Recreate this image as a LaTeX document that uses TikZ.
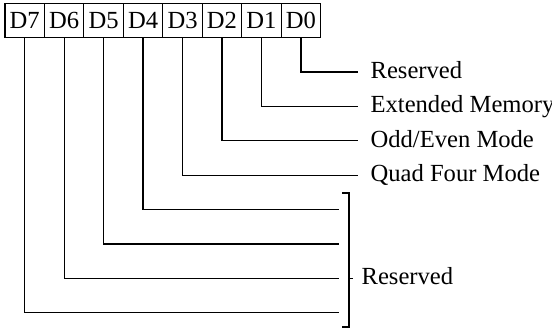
\documentclass[tikz,border=0pt]{standalone}
\usepackage{fontspec}
\setmainfont{Liberation Serif}
\usetikzlibrary{positioning}

\begin{document}
\begin{tikzpicture}[x = 0.5pt, y = -0.5pt, line width = 0.6pt,
 font = \fontsize{12.3}{14}\selectfont,
 bit/.style = {draw, minimum width = 19.73pt, minimum height = 17pt, inner sep = 0pt, outer sep = 0pt},
 lbl/.style = {anchor = west, inner xsep = 6pt, inner ysep = 0pt, text height = 0.66em, text depth = 0pt}]
 \useasboundingbox (0,0) rectangle (552,330);
 \node[bit] (D7) at (24.7,20.5) {D7};
 \node[bit, right = 0pt of D7] (D6) {D6};
 \node[bit, right = 0pt of D6] (D5) {D5};
 \node[bit, right = 0pt of D5] (D4) {D4};
 \node[bit, right = 0pt of D4] (D3) {D3};
 \node[bit, right = 0pt of D3] (D2) {D2};
 \node[bit, right = 0pt of D2] (D1) {D1};
 \node[bit, right = 0pt of D1] (D0) {D0};
 \node[lbl] (L0) at (358,72) {Reserved};
 \node[lbl] (L1) at (358,106.4) {Extended Memory};
 \node[lbl] (L2) at (358,140.8) {Odd/Even Mode};
 \node[lbl] (L3) at (358,175.2) {Quad Four Mode};
 \draw (D0) |- (L0);
 \draw (D1) |- (L1);
 \draw (D2) |- (L2);
 \draw (D3) |- (L3);
 \coordinate (R4) at (339,209.6);
 \coordinate (R5) at (339,244);
 \coordinate (R6) at (339,278.4);
 \coordinate (R7) at (339,312.8);
 \draw (D4) |- (R4);
 \draw (D5) |- (R5);
 \draw (D6) |- (R6);
 \draw (D7) |- (R7);
 % 括弧
 \coordinate (BT) at (349,193);
 \coordinate (BB) at (349,327);
 \coordinate (BM) at (349,278.4);
 \draw (342,193) -- (BT) -- (BB) -- (342,327);
 \node[lbl, inner xsep = 4pt] (L47) at (353,278.4) {Reserved};
 \draw (BM) -- (L47);
\end{tikzpicture}
\end{document}
